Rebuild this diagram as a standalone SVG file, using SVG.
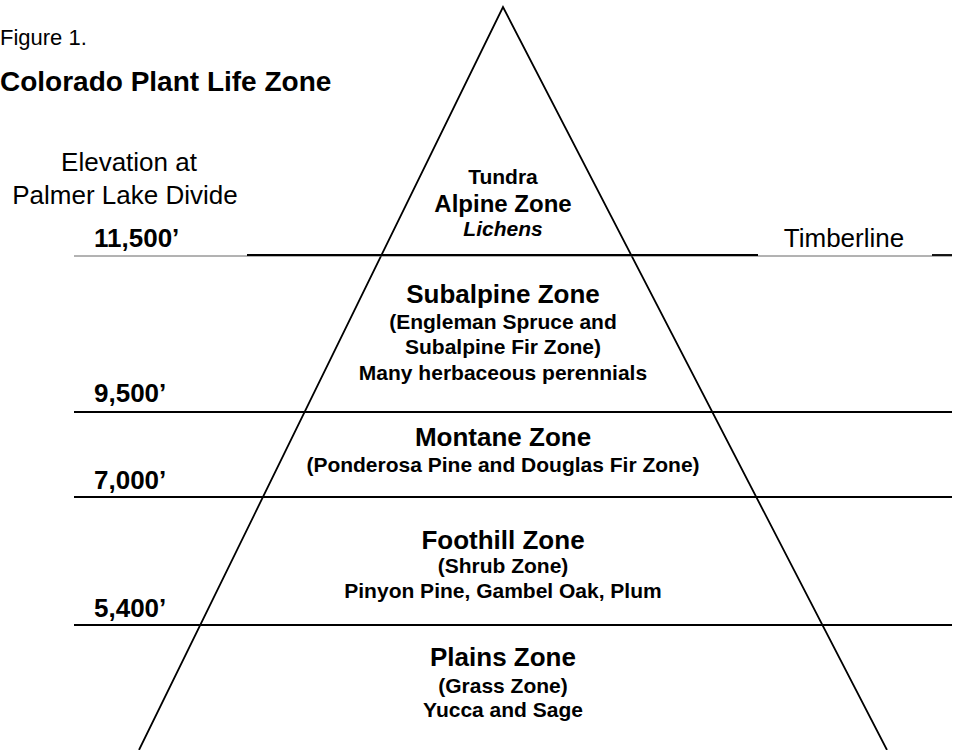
<svg xmlns="http://www.w3.org/2000/svg" width="955" height="750" viewBox="0 0 955 750">
<style>
text{font-family:"Liberation Sans",Arial,sans-serif;fill:#000}
.b{font-weight:bold}
.c{text-anchor:middle}
.t{font-size:26px}
.s{font-size:21px}
.lbl{font-size:26px;font-weight:bold}
.reg{font-size:26px}
.ln{stroke:#000;stroke-width:1.8;fill:none}
</style>
<rect width="955" height="750" fill="#fff"/>
<g id="title">
<text x="0" y="45" style="font-size:22px">Figure 1.</text>
<text x="0" y="91" class="b" style="font-size:28px">Colorado Plant Life Zone</text>
</g>
<g id="elevation-heading">
<text x="129" y="171" class="c reg">Elevation at</text>
<text x="125" y="204" class="c reg">Palmer Lake Divide</text>
</g>
<g id="connectors">
<path class="ln" d="M139,750 L503,7 L887,750"/>
<line x1="74" y1="256" x2="952" y2="256" stroke="#666" stroke-width="1"/>
<line class="ln" x1="247" y1="255" x2="758" y2="255"/>
<line class="ln" x1="932" y1="255" x2="952" y2="255"/>
<line class="ln" x1="74" y1="412" x2="952" y2="412"/>
<line class="ln" x1="74" y1="497" x2="952" y2="497"/>
<line class="ln" x1="74" y1="625" x2="952" y2="625"/>
</g>
<g id="elev-11500"><text x="94" y="247" class="lbl">11,500’</text></g>
<g id="elev-9500"><text x="94" y="402" class="lbl">9,500’</text></g>
<g id="elev-7000"><text x="94" y="489" class="lbl">7,000’</text></g>
<g id="elev-5400"><text x="94" y="617" class="lbl">5,400’</text></g>
<g id="timberline"><text x="844" y="247" class="c reg">Timberline</text></g>
<g id="zone-alpine">
<text x="503" y="184" class="c b" style="font-size:21px">Tundra</text>
<text x="503" y="212" class="c b" style="font-size:24px">Alpine Zone</text>
<text x="503" y="236" class="c b" style="font-size:21px;font-style:italic">Lichens</text>
</g>
<g id="zone-subalpine">
<text x="503" y="303" class="c b t">Subalpine Zone</text>
<text x="503" y="329" class="c b s">(Engleman Spruce and</text>
<text x="503" y="354" class="c b s">Subalpine Fir Zone)</text>
<text x="503" y="380" class="c b s">Many herbaceous perennials</text>
</g>
<g id="zone-montane">
<text x="503" y="446" class="c b t">Montane Zone</text>
<text x="503" y="472" class="c b s">(Ponderosa Pine and Douglas Fir Zone)</text>
</g>
<g id="zone-foothill">
<text x="503" y="549" class="c b t">Foothill Zone</text>
<text x="503" y="573" class="c b s">(Shrub Zone)</text>
<text x="503" y="598" class="c b s">Pinyon Pine, Gambel Oak, Plum</text>
</g>
<g id="zone-plains">
<text x="503" y="666" class="c b t">Plains Zone</text>
<text x="503" y="693" class="c b s">(Grass Zone)</text>
<text x="503" y="717" class="c b s">Yucca and Sage</text>
</g>
</svg>
